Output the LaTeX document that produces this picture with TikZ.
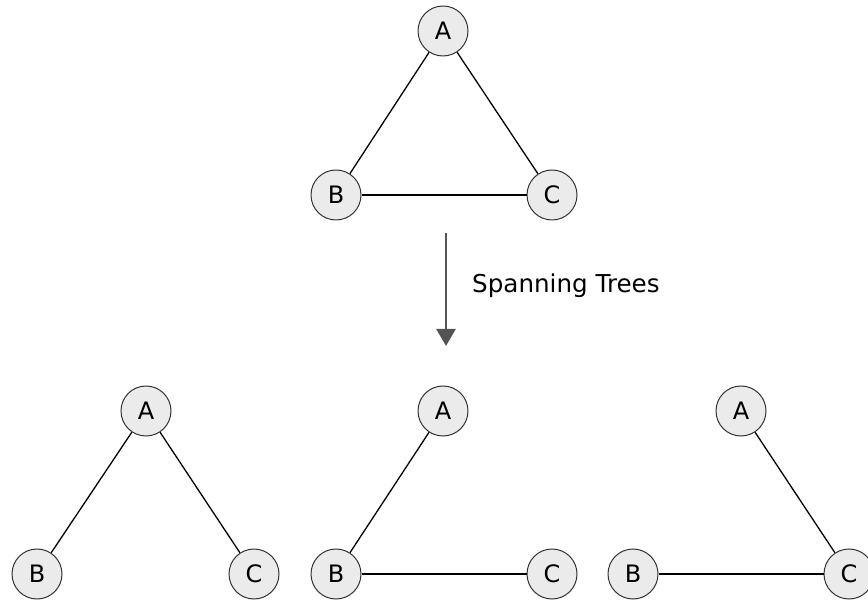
\documentclass[tikz,border=0pt]{standalone}
\usepackage{fontspec}
\setmainfont{DejaVu Sans}
\usetikzlibrary{arrows.meta}
\begin{document}
\begin{tikzpicture}[x=1pt,y=-1pt,
  vertex/.style={circle,draw=black!80,line width=1pt,fill=black!8,
    minimum size=50pt,inner sep=0pt,font=\fontsize{24}{28}\selectfont},
  edge/.style={draw=black,line width=1.3pt},
  flow/.style={draw=black!67,line width=2.5pt,
    -{Triangle[width=19pt,length=17pt]},fill=black!67}]
\useasboundingbox (0,0) rectangle (868,601);
% complete graph K3
\node[vertex] (A)  at (443,31)  {A};
\node[vertex] (B)  at (336,195) {B};
\node[vertex] (C)  at (552,195) {C};
\draw[edge] (A) -- (B);
\draw[edge] (A) -- (C);
\draw[edge] (B) -- (C);
% arrow and caption
\coordinate (ftop) at (446,233);
\coordinate (fbot) at (446,346);
\draw[flow] (ftop) -- (fbot);
\node[anchor=base west,inner sep=0pt,font=\fontsize{24.6}{28}\selectfont]
  (cap) at (472,293) {Spanning Trees};
% tree 1: A-B, A-C
\node[vertex] (A1) at (146,411) {A};
\node[vertex] (B1) at (37,574)  {B};
\node[vertex] (C1) at (254,574) {C};
\draw[edge] (A1) -- (B1);
\draw[edge] (A1) -- (C1);
% tree 2: A-B, B-C
\node[vertex] (A2) at (443,411) {A};
\node[vertex] (B2) at (336,574) {B};
\node[vertex] (C2) at (552,574) {C};
\draw[edge] (A2) -- (B2);
\draw[edge] (B2) -- (C2);
% tree 3: A-C, B-C
\node[vertex] (A3) at (741,411) {A};
\node[vertex] (B3) at (633,574) {B};
\node[vertex] (C3) at (849,574) {C};
\draw[edge] (A3) -- (C3);
\draw[edge] (B3) -- (C3);
\end{tikzpicture}
\end{document}
